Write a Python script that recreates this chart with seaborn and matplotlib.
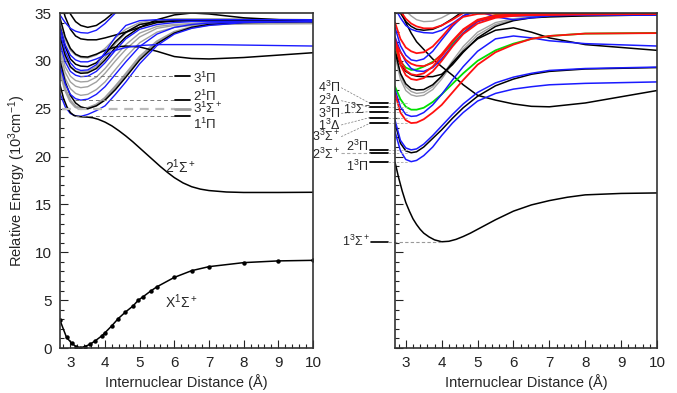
import matplotlib
matplotlib.use('Agg')
import matplotlib.pyplot as plt
from matplotlib.ticker import MultipleLocator
import seaborn as sns

# ── data (energies in 10^3 cm^-1) ──────────────────────────────────
r_grid = [2.7, 2.85, 3.0, 3.15, 3.3, 3.5, 3.75, 4.0, 4.3, 4.6, 5.0, 5.5, 6.0, 6.5, 7.0, 8.0, 10.0]

# ground state (ab initio points)
x_r = [2.7, 2.89, 3.04, 3.16, 3.28, 3.42, 3.57, 3.71, 3.9, 4.0, 4.19, 4.38, 4.59,
       4.81, 4.96, 5.1, 5.32, 5.5, 6.0, 6.5, 7.0, 8.0, 9.0, 10.0]
x_e = [2.9, 1.1, 0.5, 0.15, 0.03, 0.15, 0.4, 0.73, 1.25, 1.6, 2.3, 3.07, 3.76,
       4.4, 5.0, 5.36, 5.96, 6.4, 7.38, 8.08, 8.5, 8.92, 9.1, 9.16]

# 2 1Sigma+ and 1 3Sigma+ read on a finer R grid
s_2sig_r = [2.7, 2.8, 2.9, 3.0, 3.1, 3.2, 3.35, 3.5, 3.65, 3.8, 4.0, 4.2, 4.4, 4.6, 4.8,
            5.0, 5.2, 5.4, 5.6, 5.8, 6.0, 6.25, 6.5, 6.75, 7.0, 7.5, 8.0, 9.0, 10.0]
s_2sig = [27.5, 26.1, 25.2, 24.6, 24.3, 24.2, 24.15, 24.12, 24.05, 23.9, 23.6, 23.2, 22.7,
          22.15, 21.55, 20.9, 20.25, 19.6, 18.95, 18.35, 17.8, 17.25, 16.85, 16.6, 16.45,
          16.3, 16.25, 16.25, 16.27]
t_1sig_r = [2.7, 2.8, 2.9, 3.0, 3.1, 3.2, 3.3, 3.4, 3.5, 3.65, 3.8, 4.0, 4.2, 4.4, 4.6,
            4.8, 5.0, 5.25, 5.5, 5.75, 6.0, 6.5, 7.0, 7.5, 8.0, 9.0, 10.0]
t_1sig = [19.4, 17.8, 16.4, 15.2, 14.3, 13.5, 12.9, 12.4, 12.0, 11.6, 11.3, 11.1, 11.15,
          11.35, 11.65, 12.0, 12.4, 12.9, 13.4, 13.85, 14.3, 14.95, 15.4, 15.75, 16.0,
          16.15, 16.2]

# singlet manifold (left panel), on r_grid
s_1pi = [26.6, 25.2, 24.5, 24.25, 24.2, 24.4, 24.8, 25.3, 26.5, 27.8, 29.7, 31.6, 32.8, 33.4, 33.7, 34.0, 34.2]
s_3sig = [29.0, 27.0, 25.8, 25.2, 25.0, 25.05, 25.4, 26.1, 27.3, 28.6, 30.4, 32.0, 33.0, 33.5, 33.8, 34.0, 34.1]
s_b25 = [30.0, 27.8, 26.4, 25.6, 25.2, 25.0, 25.3, 25.9, 27.0, 28.3, 30.1, 31.8, 32.9, 33.5, 33.8, 34.0, 34.1]
s_2pi = [29.5, 27.6, 26.5, 26.05, 25.9, 26.0, 26.5, 27.3, 28.6, 29.9, 31.5, 32.8, 33.5, 33.8, 33.95, 34.05, 34.1]
s_g26 = [30.3, 28.2, 27.1, 26.6, 26.4, 26.5, 27.0, 27.8, 29.1, 30.4, 31.9, 33.0, 33.5, 33.7, 33.8, 33.85, 33.9]
s_g27 = [30.8, 28.8, 27.8, 27.35, 27.2, 27.3, 27.8, 28.7, 30.0, 31.2, 32.5, 33.4, 33.7, 33.8, 33.85, 33.9, 33.9]
s_g28 = [31.3, 29.4, 28.4, 27.95, 27.8, 27.85, 28.3, 29.2, 30.5, 31.7, 32.9, 33.6, 33.8, 33.9, 34.0, 34.0, 34.0]
s_3pi = [31.8, 29.9, 28.9, 28.5, 28.35, 28.4, 28.9, 29.8, 31.1, 32.3, 33.3, 33.8, 34.0, 34.1, 34.1, 34.1, 34.1]
s_b29 = [32.6, 30.6, 29.4, 28.9, 28.7, 28.75, 29.2, 30.1, 31.4, 32.5, 33.5, 34.0, 34.15, 34.2, 34.2, 34.2, 34.2]
s_g29 = [32.2, 30.3, 29.3, 28.95, 28.85, 28.9, 29.4, 30.4, 31.8, 32.9, 33.8, 34.2, 34.3, 34.3, 34.3, 34.3, 34.3]
s_u29 = [33.0, 31.0, 29.8, 29.2, 29.0, 29.05, 29.6, 30.9, 32.5, 33.7, 34.2, 34.3, 34.3, 34.3, 34.3, 34.3, 34.3]
s_b30 = [33.6, 31.5, 30.2, 29.65, 29.45, 29.4, 29.8, 30.7, 32.0, 33.0, 33.8, 34.1, 34.2, 34.2, 34.2, 34.2, 34.2]
s_u31 = [33.5, 31.7, 30.6, 30.1, 29.9, 29.9, 30.2, 30.6, 31.1, 31.4, 31.6, 31.7, 31.7, 31.7, 31.7, 31.65, 31.55]
s_g30 = [34.0, 32.2, 31.1, 30.6, 30.35, 30.3, 30.6, 31.3, 32.4, 33.3, 34.0, 34.3, 34.4, 34.4, 34.4, 34.4, 34.3]
s_b31 = [34.5, 32.5, 31.3, 30.7, 30.45, 30.4, 30.7, 31.1, 31.45, 31.55, 31.45, 31.0, 30.45, 30.25, 30.2, 30.35, 30.85]
s_b32 = [36.5, 34.6, 33.3, 32.6, 32.3, 32.2, 32.2, 32.4, 32.7, 33.0, 33.5, 34.3, 34.8, 35.0, 34.9, 34.5, 34.1]
s_u33 = [34.8, 34.0, 33.4, 33.1, 32.95, 32.9, 33.2, 33.9, 35.0, 36.0, 36.5, 37, 37, 37, 37, 37, 37]
s_b34 = [37.5, 36.0, 34.9, 34.1, 33.7, 33.5, 33.7, 34.3, 35.2, 36.0, 37, 38, 38, 38, 38, 38, 38]

# triplet manifold (right panel), on r_grid
t_1pi = [22.6, 20.6, 19.7, 19.47, 19.6, 20.1, 21.0, 22.2, 23.5, 24.6, 25.8, 26.6, 27.05, 27.3, 27.5, 27.65, 27.8]
t_2sig = [23.5, 21.4, 20.6, 20.4, 20.5, 21.0, 21.9, 22.8, 24.0, 25.1, 26.3, 27.4, 28.1, 28.6, 28.9, 29.15, 29.3]
t_2pi = [23.8, 21.7, 20.9, 20.7, 20.8, 21.3, 22.2, 23.2, 24.4, 25.5, 26.7, 27.7, 28.3, 28.7, 29.0, 29.2, 29.35]
t_dia = [37.0, 35.5, 34.0, 32.9, 32.0, 31.2, 30.2, 29.4, 28.5, 27.5, 26.4, 25.9, 25.5, 25.25, 25.2, 25.6, 26.9]
t_b28 = [31.0, 29.6, 28.9, 28.55, 28.4, 28.35, 28.35, 28.6, 29.6, 30.9, 32.4, 33.6, 34.2, 34.5, 34.6, 34.7, 34.8]
t_b27 = [31.0, 28.7, 27.6, 27.1, 26.96, 27.0, 27.5, 28.4, 29.8, 31.0, 32.3, 33.2, 33.45, 33.0, 32.4, 31.7, 31.1]
t_3pi = [27.0, 25.2, 24.4, 24.2, 24.25, 24.6, 25.4, 26.5, 28.0, 29.4, 31.0, 32.3, 32.6, 32.4, 32.1, 31.8, 31.55]
t_r23 = [26.6, 24.6, 23.8, 23.5, 23.55, 23.9, 24.6, 25.4, 26.7, 28.0, 29.6, 30.9, 31.7, 32.3, 32.6, 32.85, 32.9]
t_g25 = [27.3, 26.0, 25.2, 24.9, 24.9, 25.1, 25.7, 26.5, 27.6, 28.7, 30.0, 31.1, 31.8, 32.3, 32.6, 32.85, 32.92]
t_y26 = [30.5, 28.1, 26.9, 26.45, 26.3, 26.4, 27.0, 28.1, 29.7, 31.2, 32.7, 33.8, 34.3, 34.5, 34.6, 34.7, 34.8]
t_y27 = [31.0, 28.5, 27.3, 26.8, 26.6, 26.7, 27.3, 28.4, 30.0, 31.5, 33.0, 34.0, 34.4, 34.6, 34.7, 34.8, 34.85]
t_g29 = [31.5, 29.9, 29.3, 29.05, 29.1, 29.4, 29.9, 30.6, 31.8, 32.9, 34.2, 34.8, 34.9, 34.9, 34.9, 34.9, 34.95]
t_r28 = [31.8, 29.6, 28.5, 28.1, 28.0, 28.2, 28.9, 30.0, 31.5, 32.8, 33.9, 34.5, 34.7, 34.8, 34.8, 34.85, 34.9]
t_r29 = [32.3, 30.1, 29.0, 28.6, 28.5, 28.7, 29.4, 30.5, 32.0, 33.2, 34.2, 34.6, 34.75, 34.8, 34.85, 34.9, 34.9]
t_u29 = [32.5, 31.0, 29.9, 29.2, 28.95, 28.9, 29.3, 30.2, 31.6, 32.9, 34.1, 34.6, 34.7, 34.7, 34.75, 34.8, 34.8]
t_r30 = [32.0, 30.9, 30.1, 29.7, 29.5, 29.45, 29.8, 30.7, 32.1, 33.3, 34.3, 34.75, 34.85, 34.9, 34.9, 34.9, 34.95]
t_r31 = [34.0, 32.3, 31.4, 31.0, 30.8, 30.9, 31.5, 32.5, 33.8, 34.6, 34.9, 34.95, 34.95, 34.95, 34.95, 34.95, 34.95]
t_u30 = [33.5, 31.6, 30.6, 30.1, 30.0, 30.2, 31.0, 32.2, 33.6, 34.7, 35.2, 34.6, 34.3, 34.5, 34.7, 34.8, 34.8]
t_b33 = [36.5, 35.0, 34.1, 33.6, 33.3, 33.2, 33.3, 33.7, 34.4, 35.2, 36, 36, 36, 36, 36, 36, 36]
t_u33 = [35.5, 34.5, 33.7, 33.3, 33.1, 32.95, 32.9, 33.2, 33.9, 34.7, 35.5, 36, 36, 36, 36, 36, 36]
t_r33 = [36.0, 35.2, 34.4, 33.9, 33.6, 33.4, 33.4, 33.7, 34.3, 35.0, 36, 36, 36, 36, 36, 36, 36]
t_y34 = [37, 36, 35.2, 34.7, 34.3, 34.1, 34.15, 34.5, 35.1, 36, 36, 36, 36, 36, 36, 36, 36]

# state labels
left_levels = [28.4, 25.9, 25.0, 24.2]
left_level_start = [3.28, 3.13, 2.76, 3.13]
left_names = ['3$^1\\Pi$', '2$^1\\Pi$', '3$^1\\Sigma^+$', '1$^1\\Pi$']
left_name_e = [28.2, 26.3, 25.0, 23.35]

up_levels = [25.57, 25.13, 24.69, 24.08, 23.48]
up_names = ['4$^3\\Pi$', '2$^3\\Delta$', '3$^3\\Pi$', '1$^3\\Delta$', '3$^3\\Sigma^+$']
up_name_e = [27.2, 25.84, 24.52, 23.3, 22.08]
low_levels = [20.69, 20.4, 19.47]
low_names = ['2$^3\\Pi$', '2$^3\\Sigma^+$', '1$^3\\Pi$']
low_name_e = [21.05, 20.27, 19.0]

# ── style ─────────────────────────────────────────────────────────
sns.set_theme(style='ticks')
plt.rcParams['font.family'] = ['Liberation Sans', 'DejaVu Sans']
plt.rcParams['mathtext.fontset'] = 'custom'
plt.rcParams['mathtext.rm'] = 'Liberation Sans'
plt.rcParams['mathtext.it'] = 'Liberation Sans:italic'

BLK, BLU, GRY, RED, GRN = 'black', '#1a1aff', '#a0a0a0', '#ff1010', '#00e000'
DASH = '#777777'

fig = plt.figure(figsize=(6.77, 3.93), dpi=100)
ax1 = fig.add_axes([0.0886, 0.1145, 0.3737, 0.8524])
ax2 = fig.add_axes([0.5835, 0.1145, 0.387, 0.8524])


def draw(ax, curves):
    for vals, color, lw in curves:
        sns.lineplot(x=r_grid, y=vals, ax=ax, color=color, lw=lw, legend=False)


# ── left panel: singlets ──────────────────────────────────────────
draw(ax1, [(s_g26, GRY, 1.0), (s_g27, GRY, 1.0), (s_g28, GRY, 1.0), (s_g29, GRY, 1.0),
           (s_g30, GRY, 1.0), (s_3sig, GRY, 2.0),
           (s_b25, BLK, 1.1), (s_b29, BLK, 1.1), (s_b30, BLK, 1.1),
           (s_b31, BLK, 1.1), (s_b32, BLK, 1.1), (s_b34, BLK, 1.1),
           (s_1pi, BLU, 1.0), (s_2pi, BLU, 1.0), (s_3pi, BLU, 1.0), (s_u29, BLU, 1.0),
           (s_u31, BLU, 1.0), (s_u33, BLU, 1.0)])
sns.lineplot(x=s_2sig_r, y=s_2sig, ax=ax1, color=BLK, lw=1.1, legend=False)
sns.lineplot(x=x_r, y=x_e, ax=ax1, color=BLK, lw=1.1, marker='o', markersize=3.2,
             markeredgewidth=0, legend=False)

for e, r0, name, te in zip(left_levels, left_level_start, left_names, left_name_e):
    light = '3$^1\\Sigma' in name
    ax1.plot([r0, 6.02], [e, e], ls=(0, (4, 3)), color='#bbbbbb' if light else DASH,
             lw=1.6 if light else 0.7)
    ax1.plot([6.02, 6.45], [e, e], color=GRY if light else BLK, lw=2.0 if light else 1.3)
    ax1.text(6.54, te, name, fontsize=9.5, va='center', ha='left')

ax1.text(5.72, 18.9, '2$^1\\Sigma^+$', fontsize=10, va='center')
ax1.text(5.72, 4.8, 'X$^1\\Sigma^+$', fontsize=10, va='center')

# ── right panel: triplets ─────────────────────────────────────────
draw(ax2, [(t_y26, GRY, 1.0), (t_y27, GRY, 1.0), (t_y34, GRY, 1.0),
           (t_2sig, BLK, 1.1), (t_dia, BLK, 1.1), (t_b28, BLK, 1.1),
           (t_b27, BLK, 1.1), (t_b33, BLK, 1.1),
           (t_g25, GRN, 1.3), (t_g29, GRN, 1.3),
           (t_1pi, BLU, 1.1), (t_2pi, BLU, 1.1), (t_3pi, BLU, 1.1), (t_u29, BLU, 1.1),
           (t_u30, BLU, 1.1), (t_u33, BLU, 1.1),
           (t_r23, RED, 1.3), (t_r28, RED, 1.3), (t_r29, RED, 1.3), (t_r30, RED, 1.3),
           (t_r31, RED, 1.3), (t_r33, RED, 1.3)])
sns.lineplot(x=t_1sig_r, y=t_1sig, ax=ax2, color=BLK, lw=1.1, legend=False)

# level markers drawn to the left of the right panel
for e, name, te in zip(up_levels, up_names, up_name_e):
    ax2.plot([1.2, 2.0], [te, e], ls=(0, (3, 2)), color=DASH, lw=0.5, clip_on=False)
    ax2.plot([2.0, 2.5], [e, e], color=BLK, lw=1.3, clip_on=False)
    ax2.plot([2.5, 3.1], [e, e], ls=(0, (3, 2)), color='#aaaaaa', lw=0.6, clip_on=False)
    ax2.text(1.17, te, name, fontsize=9, va='center', ha='right')
ax2.text(2.04, 24.9, '1$^3\\Sigma^-$', fontsize=9, va='center', ha='right')

for e, name, te in zip(low_levels, low_names, low_name_e):
    ax2.plot([2.0, 2.5], [e, e], color=BLK, lw=1.3, clip_on=False)
    ax2.plot([2.5, 3.1], [e, e], ls=(0, (3, 2)), color='#aaaaaa', lw=0.6, clip_on=False)
    if 'Sigma' in name:
        ax2.plot([1.2, 2.0], [e, e], ls=(0, (3, 2)), color='#aaaaaa', lw=0.8, clip_on=False)
        ax2.text(1.17, te, name, fontsize=9, va='center', ha='right')
    else:
        ax2.text(1.95, te, name, fontsize=9, va='center', ha='right')

ax2.plot([2.02, 2.5], [11.1, 11.1], color=BLK, lw=1.2, clip_on=False)
ax2.plot([2.5, 4.0], [11.1, 11.1], ls=(0, (3, 2)), color='#999999', lw=0.8, clip_on=False)
ax2.text(2.0, 11.1, '1$^3\\Sigma^+$', fontsize=9, va='center', ha='right')

# ── axes cosmetics ────────────────────────────────────────────────
for ax in (ax1, ax2):
    ax.set_xlim(2.7, 10)
    ax.set_ylim(0, 35)
    ax.xaxis.set_major_locator(MultipleLocator(1))
    ax.xaxis.set_minor_locator(MultipleLocator(0.2))
    ax.yaxis.set_major_locator(MultipleLocator(5))
    ax.yaxis.set_minor_locator(MultipleLocator(1))
    ax.tick_params(which='both', direction='in', width=0.8, colors='#222222', labelsize=11, pad=6)
    ax.tick_params(which='major', length=6)
    ax.tick_params(which='minor', length=3)
    for sp in ax.spines.values():
        sp.set_linewidth(1.2)
        sp.set_color('#333333')
    ax.set_xlabel('Internuclear Distance (Å)', fontsize=10.5, labelpad=3)
    ax.set_facecolor('white')

ax1.set_ylabel('Relative Energy (10$^3$cm$^{-1}$)', fontsize=10.5, labelpad=5)
ax2.set_ylabel('')
ax2.tick_params(labelleft=False)

fig.savefig('out.png', dpi=100)
